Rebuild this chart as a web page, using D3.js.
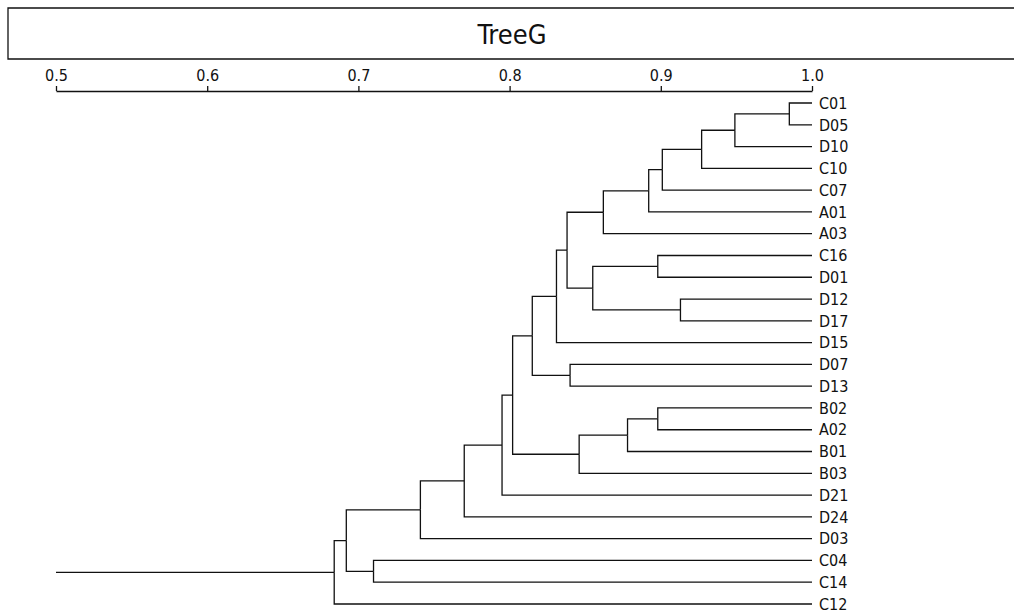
<!DOCTYPE html>
<html>
<head>
<meta charset="utf-8">
<script src="https://cdn.jsdelivr.net/npm/d3@7"></script>
<style>
  body { margin: 0; background: #fff; }
  text { font-family: "DejaVu Sans Condensed", "Liberation Sans Narrow", sans-serif; fill: #111; }
</style>
</head>
<body>
<div id="chart"></div>
<script>
const width = 1014;
const height = 614;

const title = "TreeG";
const tickValues = [0.5, 0.6, 0.7, 0.8, 0.9, 1.0];
const rootStart = 0.5;

// leaf order, top to bottom
const leaves = ["C01", "D05", "D10", "C10", "C07", "A01", "A03", "C16", "D01", "D12", "D17", "D15",
    "D07", "D13", "B02", "A02", "B01", "B03", "D21", "D24", "D03", "C04", "C14", "C12"];

// merges: [left, right, similarity], "mN" refers to the N-th merge
const merges = [
    ["C01", "D05", 0.985],  // m0
    ["m0", "D10", 0.949],   // m1
    ["m1", "C10", 0.927],   // m2
    ["m2", "C07", 0.901],   // m3
    ["m3", "A01", 0.892],   // m4
    ["m4", "A03", 0.862],   // m5
    ["C16", "D01", 0.898],  // m6
    ["D12", "D17", 0.913],  // m7
    ["m6", "m7", 0.855],    // m8
    ["m5", "m8", 0.838],    // m9
    ["m9", "D15", 0.831],   // m10
    ["D07", "D13", 0.840],  // m11
    ["m10", "m11", 0.815],  // m12
    ["B02", "A02", 0.898],  // m13
    ["m13", "B01", 0.878],  // m14
    ["m14", "B03", 0.846],  // m15
    ["m12", "m15", 0.802],  // m16
    ["m16", "D21", 0.795],  // m17
    ["m17", "D24", 0.770],  // m18
    ["m18", "D03", 0.741],  // m19
    ["C04", "C14", 0.710],  // m20
    ["m19", "m20", 0.692],  // m21
    ["m21", "C12", 0.684]   // m22
];

let buildNode = key => {
    if (key[0] === "m") {
        let m = merges[+key.slice(1)];
        return { name: key, value: m[2], children: [buildNode(m[0]), buildNode(m[1])] };
    }
    return { name: key, value: 1.0 };
};

let treeData = buildNode("m" + (merges.length - 1));

let svg = d3.select("#chart")
    .append("svg")
    .attr("width", width)
    .attr("height", height);

// title box (open on the right)
svg.append("path")
    .attr("d", "M1014,8 H8 V59 H1014")
    .attr("fill", "none")
    .attr("stroke", "#111")
    .attr("stroke-width", 1.3);

svg.append("text")
    .attr("x", 512)
    .attr("y", 44)
    .style("text-anchor", "middle")
    .style("font-size", "27px")
    .style("font-weight", 300)
    .text(title);

let x = d3.scaleLinear()
    .domain([0.5, 1.0])
    .range([56, 812]);

let y = d3.scalePoint()
    .domain(leaves)
    .range([103, 604]);

let axis = svg.append("g")
    .attr("transform", "translate(0, 91)")
    .call(d3.axisTop(x).tickValues(tickValues).tickFormat(d3.format(".1f")).tickSize(5).tickSizeOuter(0));

axis.selectAll("path, line").attr("stroke", "#111").attr("stroke-width", 1.3);
axis.selectAll("text")
    .style("font-size", "16px")
    .style("font-family", "\"DejaVu Sans Condensed\", sans-serif")
    .attr("fill", "#111")
    .attr("dy", "-0.15em");

let root = d3.hierarchy(treeData);

// leaves from the point scale, parents at the midpoint of their children
root.eachAfter(d => {
    d.px = x(d.data.value);
    d.py = d.children
        ? (d.children[0].py + d.children[d.children.length - 1].py) / 2
        : y(d.data.name);
});

let tree = svg.append("g");

tree.selectAll("path.link")
    .data(root.descendants().filter(d => d.parent))
    .enter()
    .append("path")
    .attr("class", "link")
    .attr("d", d => `M${d.px},${d.py} H${d.parent.px} V${d.parent.py}`)
    .attr("fill", "none")
    .attr("stroke", "#111")
    .attr("stroke-width", 1.3);

// root stem back to 0.5
tree.append("line")
    .attr("x1", x(rootStart))
    .attr("x2", root.px)
    .attr("y1", root.py)
    .attr("y2", root.py)
    .attr("stroke", "#111")
    .attr("stroke-width", 1.3);

tree.selectAll("text.leaf")
    .data(root.leaves())
    .enter()
    .append("text")
    .attr("class", "leaf")
    .attr("x", d => d.px + 7)
    .attr("y", d => d.py)
    .attr("dy", "0.36em")
    .style("font-size", "16px")
    .text(d => d.data.name);
</script>
</body>
</html>
